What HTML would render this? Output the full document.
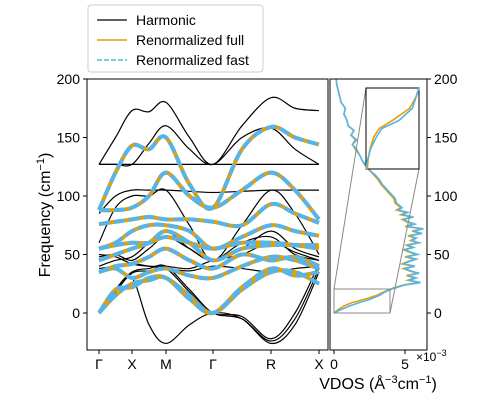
<!DOCTYPE html>
<html><head><meta charset="utf-8"><style>
body{margin:0;background:#fff}
svg text{font-family:"Liberation Sans","DejaVu Sans",sans-serif;fill:#000}
</style></head><body>
<svg id="c" width="479" height="415" viewBox="0 0 479 415"></svg>
<script>
const kLabels=["Γ","X","M","Γ","R","X"];
const yTicks=[0,50,100,150,200];
const harmonic=[
[127,150,173,172,180,150,127,160,184,175,173],
[127,127,127,145,160,140,127,150,158,140,127],
[127,127,127,127,127,127,127,127,127,127,127],
[85,100,105,105,105,104,103,104,105,105,105],
[60,90,100,100,105,75,45,75,105,85,50],
[40,45,48,60,70,55,45,55,70,55,48],
[48,50,45,55,65,55,45,60,65,50,45],
[50,48,42,40,40,38,45,50,60,52,45],
[38,40,42,40,38,36,40,38,35,38,40],
[0,20,30,-10,-26,-10,0,-5,-26,-10,35],
[0,20,35,38,40,20,0,-5,-24,-5,38],
[0,18,34,36,38,18,0,-3,-22,0,42]];
const renorm=[
[88,120,143,140,150,110,90,140,159,150,144],
[88,88,90,100,120,100,90,105,120,105,80],
[76,78,80,82,80,80,78,75,93,85,77],
[55,60,70,75,75,70,55,65,75,70,66],
[55,58,60,60,65,60,55,60,60,58,55],
[45,50,55,60,70,60,45,55,58,58,58],
[35,40,42,48,55,45,38,50,45,48,40],
[35,38,30,35,38,32,30,40,48,45,38],
[0,20,22,30,30,15,0,20,35,35,25],
[0,15,25,28,30,12,0,22,38,32,35]];
const dosFreq=[0,3,6,9,12,15,18,21,24,26,28,30,32,34,36,38,40,42,44,46,48,50,52,54,56,58,60,62,64,66,68,70,72,74,76,78,80,82,84,86,88,90,94,98,102,106,110,114,118,122,126,130,135,140,144,148,152,156,160,165,170,175,180,185,190,195,200];
const dosFast=[0,0.5,1.1,1.8,2.6,3.2,3.6,4.2,5.0,6.1,5.3,5.8,5.2,6.0,5.4,5.0,5.7,4.9,5.3,5.8,5.1,5.9,5.4,5.0,5.6,5.2,6.0,5.5,5.8,5.3,6.2,5.6,6.3,5.1,5.7,5.2,4.9,5.6,4.8,5.2,4.5,4.8,4.4,4.3,4.0,3.7,3.4,3.2,2.9,2.5,2.3,2.0,1.8,1.6,1.3,1.6,1.2,1.4,1.0,0.9,0.7,0.8,0.5,0.4,0.3,0.2,0.15];
const dosFull=[0,0.3,0.7,1.3,2.2,3.0,3.5,4.1,4.9,6.0,5.2,5.7,5.1,5.9,5.3,4.9,5.6,4.8,5.2,5.7,5.0,5.8,5.3,4.9,5.5,5.1,5.9,5.4,5.7,5.2,6.1,5.5,6.2,5.0,5.6,5.1,4.8,5.5,4.7,5.1,4.4,4.7,4.3,4.2,3.9,3.6,3.3,3.1,2.8,2.5,2.2,2.0,1.8,1.5,1.3,1.5,1.2,1.4,1.0,0.9,0.7,0.8,0.5,0.4,0.3,0.2,0.15];
const insetFreq=[0,2,5,8,10,12,15,18,20];
const insetFast=[0,0.1,0.35,0.8,1.2,2.5,3.5,3.8,4];
const insetFull=[0.1,0.15,0.3,0.6,1.0,2.0,3.3,3.8,4];

const NS="http://www.w3.org/2000/svg",svg=document.getElementById('c');
function mk(t,a,p){const e=document.createElementNS(NS,t);for(const k in a)e.setAttribute(k,a[k]);(p||svg).appendChild(e);return e;}
const kPx=[99,132,166,213,271,319];
const yF=f=>313-f*(313-79)/200;
function kx(i){const s=Math.floor(i/2);if(i%2===0)return kPx[i/2];return (kPx[s]+kPx[s+1])/2;}
function smooth(pts){let d="M"+pts[0][0]+","+pts[0][1];
 for(let i=0;i<pts.length-1;i++){const p0=pts[Math.max(0,i-1)],p1=pts[i],p2=pts[i+1],p3=pts[Math.min(pts.length-1,i+2)];
  d+=" C"+(p1[0]+(p2[0]-p0[0])/6)+","+(p1[1]+(p2[1]-p0[1])/6)+" "+(p2[0]-(p3[0]-p1[0])/6)+","+(p2[1]-(p3[1]-p1[1])/6)+" "+p2[0]+","+p2[1];}
 return d;}
const cp=mk('clipPath',{id:'mc'});mk('rect',{x:87,y:79,width:241,height:271},cp);
const g=mk('g',{'clip-path':'url(#mc)'});
harmonic.forEach((b,j)=>{const e=mk('path',{d:smooth(b.map((v,i)=>[kx(i),yF(v)])),fill:'none',stroke:'#000','stroke-width':1.2},g);
});
renorm.forEach(b=>{const d=smooth(b.map((v,i)=>[kx(i),yF(v)]));
const o=mk('path',{d,fill:'none',stroke:'#E69F00','stroke-width':4},g);
const f=mk('path',{d,fill:'none',stroke:'#56B4E9','stroke-width':4,'stroke-dasharray':'11 4'},g);});
mk('rect',{x:87,y:79,width:241,height:271,fill:'none',stroke:'#000','stroke-width':1});
yTicks.forEach(t=>{const y=yF(t);mk('line',{x1:83,x2:87,y1:y,y2:y,stroke:'#000'});
const tx=mk('text',{x:80,y:y+5,'text-anchor':'end','font-size':14});tx.textContent=t;});
kLabels.forEach((l,i)=>{mk('line',{x1:kPx[i],x2:kPx[i],y1:350,y2:354,stroke:'#000'});
const tx=mk('text',{x:kPx[i],y:369,'text-anchor':'middle','font-size':14});tx.textContent=l;});
const yl=mk('text',{x:50,y:215,'text-anchor':'middle','font-size':16,transform:'rotate(-90 50 215)'});yl.innerHTML='Frequency (cm<tspan dy="-6" font-size="11">−1</tspan><tspan dy="6">)</tspan>';
const dx=v=>334+v*14.2;
const cp2=mk('clipPath',{id:'dc'});mk('rect',{x:330,y:79,width:97,height:271},cp2);
const g2=mk('g',{'clip-path':'url(#dc)'});
const pl=(F,V)=>F.map((f,i)=>dx(V[i])+","+yF(f)).join(" ");
mk('polyline',{points:pl(dosFreq,dosFull),fill:'none',stroke:'#E69F00','stroke-width':1.6},g2);
mk('polyline',{points:pl(dosFreq,dosFast),fill:'none',stroke:'#56B4E9','stroke-width':1.6},g2);
mk('rect',{x:334,y:289,width:56,height:24,fill:'none',stroke:'#888','stroke-width':1});
mk('line',{x1:334,y1:289,x2:366,y2:88,stroke:'#888'});mk('line',{x1:390,y1:313,x2:419,y2:169,stroke:'#888'});
mk('rect',{x:366,y:88,width:53,height:81,fill:'#fff',stroke:'#000','stroke-width':1});
const ix=v=>366+v*53/4, iy=f=>169-f*81/20;
const ipl=(V)=>insetFreq.map((f,i)=>ix(V[i])+","+iy(f)).join(" ");
mk('polyline',{points:ipl(insetFull),fill:'none',stroke:'#E69F00','stroke-width':1.6});
mk('polyline',{points:ipl(insetFast),fill:'none',stroke:'#56B4E9','stroke-width':1.6});
mk('rect',{x:330,y:79,width:97,height:271,fill:'none',stroke:'#000','stroke-width':1});
yTicks.forEach(t=>{const y=yF(t);mk('line',{x1:427,x2:431,y1:y,y2:y,stroke:'#000'});
const tx=mk('text',{x:434,y:y+5,'font-size':14});tx.textContent=t;});
[0,5].forEach(v=>{mk('line',{x1:dx(v),x2:dx(v),y1:350,y2:354,stroke:'#000'});const tx=mk('text',{x:dx(v),y:369,'text-anchor':'middle','font-size':14});tx.textContent=v;});
const ex=mk('text',{x:416,y:361,'font-size':12});ex.innerHTML='×10<tspan dy="-5" font-size="9">−3</tspan>';
const xl=mk('text',{x:378,y:389,'text-anchor':'middle','font-size':16});xl.innerHTML='VDOS (Å<tspan dy="-6" font-size="11">−3</tspan><tspan dy="6">cm</tspan><tspan dy="-6" font-size="11">−1</tspan><tspan dy="6">)</tspan>';
const lg=mk('g',{});
mk('rect',{x:88,y:5,width:175,height:67,rx:3,fill:'#fff',stroke:'#ccc'},lg);
[['Harmonic','#000',null,1.2,20],['Renormalized full','#E69F00',null,1.6,40],['Renormalized fast','#56B4E9','5 2',1.6,60]].forEach(e=>{
const a={x1:97,x2:127,y1:e[4],y2:e[4],stroke:e[1],'stroke-width':e[3]};if(e[2])a['stroke-dasharray']=e[2];mk('line',a,lg);
const t=mk('text',{x:136,y:e[4]+5,'font-size':14},lg);t.textContent=e[0];});
</script></body></html>
